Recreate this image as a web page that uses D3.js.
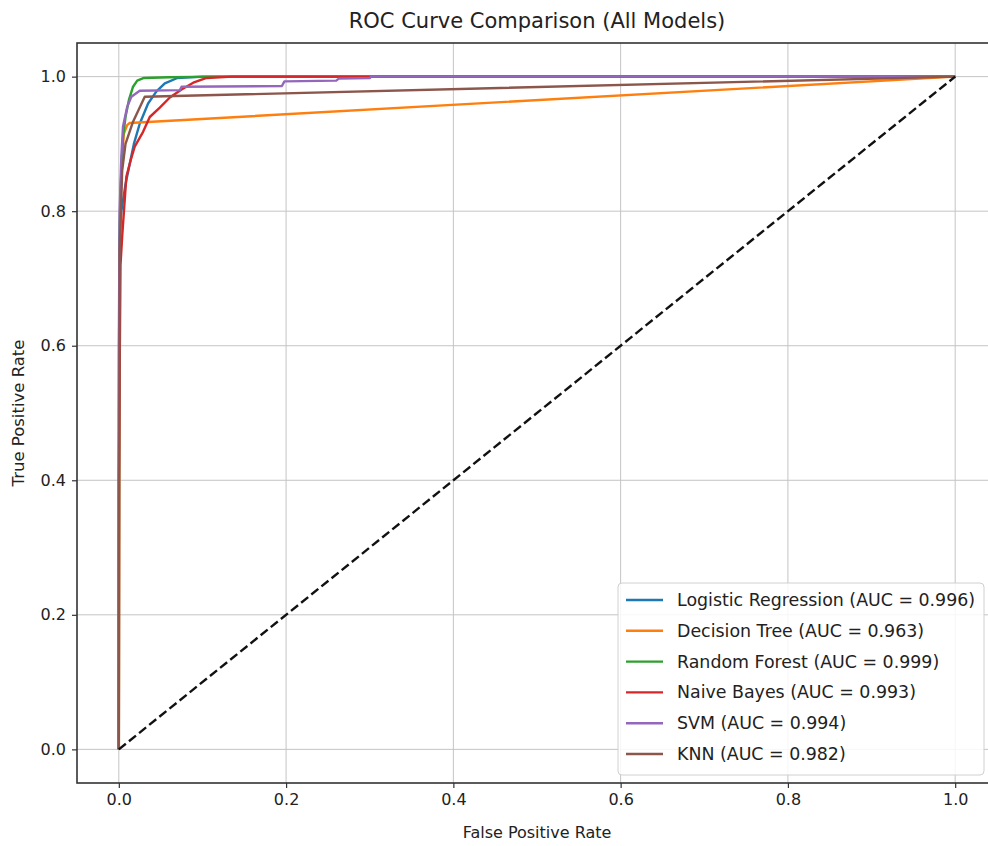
<!DOCTYPE html>
<html>
<head>
<meta charset="utf-8">
<script src="https://cdn.jsdelivr.net/npm/d3@7/dist/d3.min.js"></script>
<style>
  body { margin: 0; background: #fff; }
  svg text { font-family: "DejaVu Sans", sans-serif; fill: #222; }
</style>
</head>
<body>
<svg id="chart" width="988" height="846"></svg>
<script>
// ROC points
const models = ['Logistic Regression', 'Decision Tree', 'Random Forest', 'Naive Bayes', 'SVM', 'KNN'];
const aucs = [0.996, 0.963, 0.999, 0.993, 0.994, 0.982];
const colors = ['#1f77b4', '#ff7f0e', '#2ca02c', '#d62728', '#9467bd', '#8c564b'];

const lrFpr = [0, 0, 0.001, 0.003, 0.008, 0.013, 0.018, 0.025, 0.035, 0.045, 0.055, 0.07, 0.1, 1];
const lrTpr = [0, 0.3, 0.76, 0.8, 0.84, 0.87, 0.9, 0.93, 0.96, 0.978, 0.99, 0.998, 1, 1];

const dtFpr = [0, 0.001, 0.003, 0.006, 0.01, 0.013, 1];
const dtTpr = [0, 0.74, 0.86, 0.915, 0.928, 0.931, 1];

const rfFpr = [0, 0, 0.001, 0.003, 0.005, 0.008, 0.012, 0.017, 0.022, 0.03, 0.06, 0.12, 1];
const rfTpr = [0, 0.5, 0.78, 0.86, 0.91, 0.94, 0.965, 0.985, 0.994, 0.998, 0.999, 1, 1];

const nbFpr = [0, 0, 0.002, 0.004, 0.009, 0.014, 0.019, 0.029, 0.037, 0.049, 0.061, 0.075, 0.089, 0.105, 0.136, 1];
const nbTpr = [0, 0.4, 0.72, 0.762, 0.851, 0.875, 0.896, 0.918, 0.94, 0.954, 0.969, 0.981, 0.991, 0.998, 1, 1];

const svmFpr = [0, 0, 0.001, 0.003, 0.005, 0.01, 0.015, 0.025, 0.073, 0.075, 0.195, 0.198, 0.26, 0.263, 0.3, 0.302, 1];
const svmTpr = [0, 0.6, 0.8, 0.88, 0.926, 0.955, 0.97, 0.979, 0.98, 0.985, 0.986, 0.993, 0.994, 0.997, 0.998, 1, 1];

const knnFpr = [0, 0.001, 0.004, 0.008, 0.017, 0.031, 1];
const knnTpr = [0, 0.74, 0.86, 0.9, 0.933, 0.97, 1];

const fprs = [lrFpr, dtFpr, rfFpr, nbFpr, svmFpr, knnFpr];
const tprs = [lrTpr, dtTpr, rfTpr, nbTpr, svmTpr, knnTpr];

const ticks = [0, 0.2, 0.4, 0.6, 0.8, 1.0];

const svg = d3.select('#chart');
const margin = { left: 77, top: 43, right: -9, bottom: 63 };
const W = 988, H = 846;

const x = d3.scaleLinear().domain([-0.05, 1.05]).range([margin.left, W - margin.right]);
const y = d3.scaleLinear().domain([-0.05, 1.05]).range([H - margin.bottom, margin.top]);

// grid
const grid = svg.append('g');
grid.selectAll('.vg').data(ticks).enter().append('line')
  .attr('x1', d => x(d)).attr('x2', d => x(d))
  .attr('y1', y(-0.05)).attr('y2', y(1.05))
  .attr('stroke', '#c4c4c4').attr('stroke-width', 1);
grid.selectAll('.hg').data(ticks).enter().append('line')
  .attr('y1', d => y(d)).attr('y2', d => y(d))
  .attr('x1', x(-0.05)).attr('x2', x(1.05))
  .attr('stroke', '#c4c4c4').attr('stroke-width', 1);

// curves
const line = d3.line().x(d => x(d[0])).y(d => y(d[1]));
const curves = svg.append('g');
models.forEach((m, i) => {
  const pts = fprs[i].map((f, j) => [f, tprs[i][j]]);
  curves.append('path')
    .datum(pts)
    .attr('d', line)
    .attr('fill', 'none')
    .attr('stroke', colors[i])
    .attr('stroke-width', 2.4)
    .attr('stroke-linejoin', 'round');
});

// chance line
curves.append('path')
  .datum([[0, 0], [1, 1]])
  .attr('d', line)
  .attr('fill', 'none')
  .attr('stroke', '#111')
  .attr('stroke-width', 2.4)
  .attr('stroke-dasharray', '9,4');

// axes
const xAxis = d3.axisBottom(x).tickValues(ticks).tickFormat(d3.format('.1f')).tickSize(5).tickPadding(6);
const yAxis = d3.axisLeft(y).tickValues(ticks).tickFormat(d3.format('.1f')).tickSize(5).tickPadding(6);

const gx = svg.append('g').attr('transform', `translate(0,${y(-0.05)})`).call(xAxis);
const gy = svg.append('g').attr('transform', `translate(${x(-0.05)},0)`).call(yAxis);
[gx, gy].forEach(g => {
  g.select('.domain').remove();
  g.selectAll('.tick line').attr('stroke', '#333').attr('stroke-width', 1.2);
  g.selectAll('.tick text').attr('font-size', 16).attr('fill', '#333');
});

// spines
svg.append('rect')
  .attr('x', x(-0.05)).attr('y', y(1.05))
  .attr('width', x(1.05) - x(-0.05)).attr('height', y(-0.05) - y(1.05))
  .attr('fill', 'none').attr('stroke', '#333').attr('stroke-width', 1.6);

// title and labels
svg.append('text')
  .attr('x', (x(-0.05) + x(1.05)) / 2).attr('y', 28)
  .attr('text-anchor', 'middle')
  .attr('font-size', 21)
  .text('ROC Curve Comparison (All Models)');

svg.append('text')
  .attr('x', x(0.5)).attr('y', 838)
  .attr('text-anchor', 'middle')
  .attr('font-size', 16)
  .text('False Positive Rate');

svg.append('text')
  .attr('transform', `translate(24,${y(0.5)}) rotate(-90)`)
  .attr('text-anchor', 'middle')
  .attr('font-size', 16.5)
  .text('True Positive Rate');

// legend
const lg = svg.append('g').attr('transform', 'translate(618,583)');
lg.append('rect')
  .attr('width', 366).attr('height', 192).attr('rx', 4)
  .attr('fill', 'rgba(255,255,255,0.85)')
  .attr('stroke', '#d0d0d0');
const items = lg.selectAll('.item').data(models).enter().append('g')
  .attr('transform', (d, i) => `translate(0,${17 + i * 30.8})`);
items.append('line')
  .attr('x1', 8).attr('x2', 45)
  .attr('stroke', (d, i) => colors[i]).attr('stroke-width', 2.4);
items.append('text')
  .attr('x', 59).attr('dy', '0.35em')
  .attr('font-size', 17.4)
  .text((d, i) => `${d} (AUC = ${aucs[i].toFixed(3)})`);
</script>
</body>
</html>
